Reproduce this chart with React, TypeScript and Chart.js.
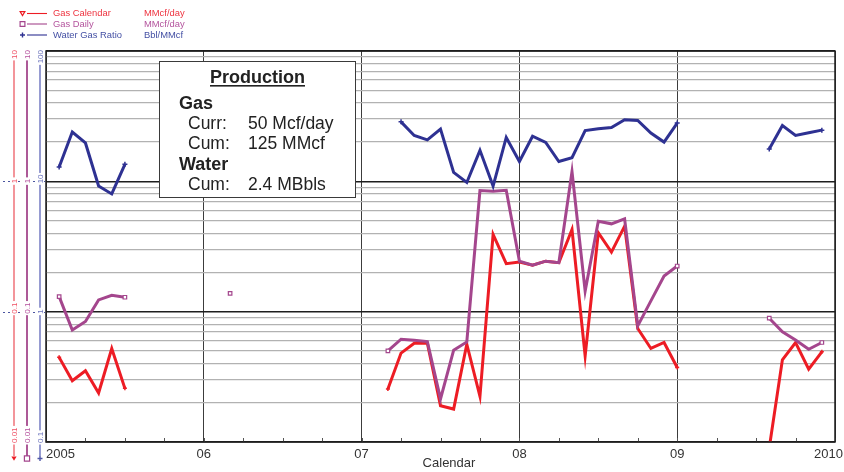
import { useEffect, useRef } from 'react';
import { Chart, registerables } from 'chart.js';

Chart.register(...registerables);

const FONT = "'Liberation Sans', Arial, Helvetica, sans-serif";

// Calendar axis: year boundaries and their printed labels
const yearTicks = [2005, 2006, 2007, 2008, 2009, 2010];
const yearLabels = ['2005', '06', '07', '08', '09', '2010'];

// Decade ticks printed on the left-hand axes
const gasAxisTicks = [0.01, 0.1, 1, 10];
const waterAxisTicks = [0.1, 1, 10, 100];

// Monthly periods, Jan 2005 .. Dec 2009
const firstYear = 2005;
const monthCount = 60;
const months: string[] = [];
for (let i = 0; i < monthCount; i++) {
  const y = firstYear + Math.floor(i / 12);
  const m = (i % 12) + 1;
  months.push(`${y}-${m < 10 ? '0' + m : m}`);
}

// Gas Calendar, MMcf/day
const gasCalendar: (number | null)[] = [
  // 2005
  0.0446, 0.0295, 0.0352, 0.0238, 0.0522, 0.0258, null, null, null, null, null, null,
  // 2006
  null, null, null, null, null, null, null, null, null, null, null, null,
  // 2007
  null, 0.0255, 0.0481, 0.0573, 0.0573, 0.019, 0.0179, 0.0563, 0.0224, 0.391, 0.2335, 0.24,
  // 2008
  0.2277, 0.244, 0.2375, 0.427, 0.0458, 0.403, 0.2865, 0.453, 0.0743, 0.0522, 0.058, 0.0373,
  // 2009
  null, null, null, null, null, null, 0.009, 0.0427, 0.058, 0.0362, 0.0492, null,
];

// Gas Daily, MMcf/day
const gasDaily: (number | null)[] = [
  // 2005
  0.1305, 0.0724, 0.084, 0.123, 0.1334, 0.129, null, null, null, null, null, null,
  // 2006
  null, 0.138, null, null, null, null, null, null, null, null, null, null,
  // 2007
  null, 0.05, 0.0615, 0.0604, 0.059, 0.0214, 0.0507, 0.0586, 0.849, 0.838, 0.853, 0.2444,
  // 2008
  0.2277, 0.244, 0.2375, 1.186, 0.144, 0.494, 0.472, 0.515, 0.0778, 0.121, 0.1875, 0.224,
  // 2009
  null, null, null, null, null, null, 0.0891, 0.07, 0.0607, 0.0515, 0.058, null,
];

// Water Gas Ratio, Bbl/MMcf
const waterGasRatio: (number | null)[] = [
  // 2005
  12.9, 23.9, 19.7, 9.2, 8.0, 13.5, null, null, null, null, null, null,
  // 2006
  null, null, null, null, null, null, null, null, null, null, null, null,
  // 2007
  null, null, 28.6, 22.5, 20.8, 25.2, 11.7, 9.8, 17.3, 9.2, 21.7, 14.2,
  // 2008
  22.2, 19.9, 14.2, 15.2, 24.5, 25.3, 25.9, 29.7, 29.3, 23.5, 20.0, 28.0,
  // 2009
  null, null, null, null, null, null, 17.7, 26.8, 22.5, 23.6, 24.7, null,
];

const RED = '#ed1c24';
const PURPLE = '#a4468d';
const NAVY = '#2e3192';

// month-end position on the calendar axis
const monthToX = (label: string) => {
  const [y, m] = label.split('-').map(Number);
  return y + m / 12;
};

const isDecade = (v: number) => Math.abs(Math.log10(v) - Math.round(Math.log10(v))) < 1e-9;

// 1..9 x 10^n grid values between the first and last decade
const logGrid = (decades: number[]) => {
  const out: number[] = [];
  for (let i = 0; i < decades.length - 1; i++) {
    for (let k = 1; k <= 9; k++) out.push(parseFloat((decades[i] * k).toPrecision(6)));
  }
  out.push(decades[decades.length - 1]);
  return out;
};

const endpointRadius = (arr: (number | null)[], r: number) => (ctx: any) => {
  const i = ctx.dataIndex;
  if (arr[i] == null) return 0;
  const prev = i > 0 ? arr[i - 1] : null;
  const next = i < arr.length - 1 ? arr[i + 1] : null;
  return prev == null || next == null ? r : 0;
};

const series = (values: (number | null)[]) =>
  months.map((m, i) => ({ x: monthToX(m), y: values[i] }));

type MarkerKind = 'triDown' | 'square' | 'plus';

function drawMarker(
  ctx: CanvasRenderingContext2D,
  kind: MarkerKind,
  x: number,
  y: number,
  s: number,
  color: string,
  filled: boolean
) {
  ctx.save();
  ctx.strokeStyle = color;
  ctx.fillStyle = color;
  ctx.lineWidth = 1.2;
  ctx.beginPath();
  if (kind === 'triDown') {
    ctx.moveTo(x - s, y - s * 0.8);
    ctx.lineTo(x + s, y - s * 0.8);
    ctx.lineTo(x, y + s * 0.9);
    ctx.closePath();
    if (filled) ctx.fill();
    else ctx.stroke();
  } else if (kind === 'square') {
    ctx.rect(x - s, y - s, 2 * s, 2 * s);
    if (filled) ctx.fill();
    else ctx.stroke();
  } else {
    ctx.lineWidth = 1.4;
    ctx.moveTo(x - s, y);
    ctx.lineTo(x + s, y);
    ctx.moveTo(x, y - s);
    ctx.lineTo(x, y + s);
    ctx.stroke();
  }
  ctx.restore();
}

const legendRows = [
  { name: 'Gas Calendar', unit: 'MMcf/day', color: RED, text: '#ee3440', marker: 'triDown' as MarkerKind, y: 13.5 },
  { name: 'Gas Daily', unit: 'MMcf/day', color: PURPLE, text: '#b4559e', marker: 'square' as MarkerKind, y: 24 },
  { name: 'Water Gas Ratio', unit: 'Bbl/MMcf', color: NAVY, text: '#4450a4', marker: 'plus' as MarkerKind, y: 35 },
];

const axisColumns = [
  { scale: 'y', x: 14, ticks: gasAxisTicks, line: '#f28a90', text: '#ef5064', marker: 'triDown' as MarkerKind, markerColor: RED },
  { scale: 'y', x: 27, ticks: gasAxisTicks, line: '#a4478c', text: '#b4509c', marker: 'square' as MarkerKind, markerColor: PURPLE },
  { scale: 'yWater', x: 40, ticks: waterAxisTicks, line: '#8b91cd', text: '#6c74bd', marker: 'plus' as MarkerKind, markerColor: '#5058a8' },
];

const summaryLines = [
  { text: 'Gas', x: 179, y: 108.5, bold: true },
  { text: 'Curr:', x: 188, y: 128.5, bold: false },
  { text: '50 Mcf/day', x: 248, y: 128.5, bold: false },
  { text: 'Cum:', x: 188, y: 148.5, bold: false },
  { text: '125 MMcf', x: 248, y: 148.5, bold: false },
  { text: 'Water', x: 179, y: 170, bold: true },
  { text: 'Cum:', x: 188, y: 190, bold: false },
  { text: '2.4 MBbls', x: 248, y: 190, bold: false },
];

const decorPlugin = {
  id: 'decor',
  afterDatasetsDraw(chart: any) {
    const ctx: CanvasRenderingContext2D = chart.ctx;
    const a = chart.chartArea;
    const xs = chart.scales.x;
    ctx.save();

    // quarter tick marks along the bottom edge
    ctx.strokeStyle = '#555';
    ctx.lineWidth = 1;
    const quarters = (yearTicks[yearTicks.length - 1] - yearTicks[0]) * 4;
    for (let i = 0; i <= quarters; i++) {
      const px = Math.round(xs.getPixelForValue(yearTicks[0] + i / 4)) + 0.5;
      ctx.beginPath();
      ctx.moveTo(px, a.bottom);
      ctx.lineTo(px, a.bottom - 4);
      ctx.stroke();
    }

    // plot frame
    ctx.strokeStyle = '#1e1e1e';
    ctx.lineWidth = 1.5;
    ctx.strokeRect(a.left, a.top, a.right - a.left, a.bottom - a.top);

    // calendar labels
    ctx.fillStyle = '#333';
    ctx.font = `13px ${FONT}`;
    ctx.textBaseline = 'alphabetic';
    yearTicks.forEach((yr, i) => {
      const px = xs.getPixelForValue(yr);
      if (i === 0) {
        ctx.textAlign = 'left';
        ctx.fillText(yearLabels[i], px, 457.5);
      } else if (i === yearTicks.length - 1) {
        ctx.textAlign = 'right';
        ctx.fillText(yearLabels[i], chart.width - 1, 457.5);
      } else {
        ctx.textAlign = 'center';
        ctx.fillText(yearLabels[i], px, 457.5);
      }
    });
    ctx.textAlign = 'center';
    ctx.fillText('Calendar', 449, 467);

    // production summary box
    ctx.fillStyle = '#fff';
    ctx.fillRect(159.5, 61.5, 196, 136);
    ctx.strokeStyle = '#3a3a3a';
    ctx.lineWidth = 1;
    ctx.strokeRect(159.5, 61.5, 196, 136);
    ctx.fillStyle = '#222';
    ctx.font = `bold 18px ${FONT}`;
    ctx.textAlign = 'center';
    ctx.fillText('Production', 257.5, 83);
    const tw = ctx.measureText('Production').width;
    ctx.fillRect(257.5 - tw / 2, 85, tw, 1.6);
    ctx.textAlign = 'left';
    summaryLines.forEach((l) => {
      ctx.font = `${l.bold ? 'bold 18px' : '17.5px'} ${FONT}`;
      ctx.fillText(l.text, l.x, l.y);
    });

    // left-hand value axes
    const ys = chart.scales.y;
    ctx.strokeStyle = '#4b55a0';
    ctx.lineWidth = 1;
    ctx.setLineDash([2, 3]);
    gasAxisTicks.slice(1, -1).forEach((v) => {
      const py = Math.round(ys.getPixelForValue(v)) + 0.5;
      ctx.beginPath();
      ctx.moveTo(3, py);
      ctx.lineTo(a.left, py);
      ctx.stroke();
    });
    ctx.setLineDash([]);

    axisColumns.forEach((col) => {
      const sc = chart.scales[col.scale];
      ctx.strokeStyle = col.line;
      ctx.lineWidth = 1.8;
      ctx.beginPath();
      ctx.moveTo(col.x, a.top);
      ctx.lineTo(col.x, 456);
      ctx.stroke();
      ctx.font = `8px ${FONT}`;
      col.ticks.forEach((v, i) => {
        const label = String(v);
        const w = ctx.measureText(label).width;
        const py = sc.getPixelForValue(v);
        let cy: number;
        if (i === col.ticks.length - 1) cy = a.top - 1 + w / 2;
        else if (i === 0) cy = a.bottom + 1 - w / 2;
        else cy = py + 2 - w / 2;
        ctx.fillStyle = '#fff';
        ctx.fillRect(col.x - 4, cy - w / 2 - 1.5, 8, w + 3);
        ctx.save();
        ctx.translate(col.x, cy);
        ctx.rotate(-Math.PI / 2);
        ctx.textAlign = 'center';
        ctx.textBaseline = 'middle';
        ctx.fillStyle = col.text;
        ctx.fillText(label, 0, 0.5);
        ctx.restore();
      });
      drawMarker(ctx, col.marker, col.x, 458.5, col.marker === 'plus' ? 2.5 : 2.6, col.markerColor, col.marker === 'triDown');
    });

    // legend
    ctx.textBaseline = 'middle';
    ctx.textAlign = 'left';
    ctx.font = `9.4px ${FONT}`;
    legendRows.forEach((r) => {
      drawMarker(ctx, r.marker, 22.5, r.y, r.marker === 'plus' ? 2.5 : 2.4, r.color, false);
      ctx.strokeStyle = r.color;
      ctx.lineWidth = 1.1;
      ctx.beginPath();
      ctx.moveTo(27, r.y);
      ctx.lineTo(47, r.y);
      ctx.stroke();
      ctx.fillStyle = r.text;
      ctx.fillText(r.name, 53, r.y);
      ctx.fillText(r.unit, 144, r.y);
    });

    ctx.restore();
  },
};

export default function App() {
  const ref = useRef<HTMLCanvasElement>(null);

  useEffect(() => {
    const canvas = ref.current;
    if (!canvas) return;
    const gasGrid = logGrid(gasAxisTicks);
    const waterGrid = logGrid(waterAxisTicks);

    const chart = new Chart(canvas, {
      type: 'line',
      data: {
        datasets: [
          {
            label: 'Water Gas Ratio',
            data: series(waterGasRatio),
            yAxisID: 'yWater',
            borderColor: NAVY,
            borderWidth: 3,
            pointStyle: 'cross',
            pointRadius: endpointRadius(waterGasRatio, 2.5),
            pointBorderColor: NAVY,
            pointBorderWidth: 1.5,
            spanGaps: false,
            tension: 0,
          },
          {
            label: 'Gas Daily',
            data: series(gasDaily),
            yAxisID: 'y',
            borderColor: PURPLE,
            borderWidth: 3,
            pointStyle: 'rect',
            pointRadius: endpointRadius(gasDaily, 2.5),
            pointBackgroundColor: '#fff',
            pointBorderColor: PURPLE,
            pointBorderWidth: 1.2,
            spanGaps: false,
            tension: 0,
          },
          {
            label: 'Gas Calendar',
            data: series(gasCalendar),
            yAxisID: 'y',
            borderColor: RED,
            borderWidth: 3,
            pointStyle: 'cross',
            pointRadius: endpointRadius(gasCalendar, 2),
            pointBorderColor: RED,
            pointBorderWidth: 1.5,
            spanGaps: false,
            tension: 0,
          },
        ],
      },
      options: {
        animation: false,
        responsive: false,
        maintainAspectRatio: false,
        events: [],
        layout: { padding: { left: 46, top: 51, right: 9, bottom: 30 } },
        plugins: { legend: { display: false }, tooltip: { enabled: false } },
        scales: {
          x: {
            type: 'linear',
            min: yearTicks[0],
            max: yearTicks[yearTicks.length - 1],
            afterBuildTicks: (s: any) => {
              s.ticks = yearTicks.map((v) => ({ value: v }));
            },
            afterFit: (s: any) => {
              s.height = 0;
            },
            ticks: { display: false },
            grid: { color: '#3c3c3c', lineWidth: 1, drawTicks: false },
            border: { display: false },
          },
          y: {
            type: 'logarithmic',
            position: 'left',
            min: gasAxisTicks[0],
            max: gasAxisTicks[gasAxisTicks.length - 1],
            afterBuildTicks: (s: any) => {
              s.ticks = gasGrid.map((v) => ({ value: v, major: isDecade(v) }));
            },
            afterFit: (s: any) => {
              s.width = 0;
            },
            ticks: { display: false },
            grid: {
              drawTicks: false,
              color: (c: any) => (c.tick && isDecade(c.tick.value) ? '#1e1e1e' : '#b2b2b2'),
              lineWidth: (c: any) => (c.tick && isDecade(c.tick.value) ? 1.6 : 1.3),
            },
            border: { display: false },
          },
          yWater: {
            type: 'logarithmic',
            position: 'left',
            display: false,
            min: waterAxisTicks[0],
            max: waterAxisTicks[waterAxisTicks.length - 1],
            afterBuildTicks: (s: any) => {
              s.ticks = waterGrid.map((v) => ({ value: v }));
            },
            afterFit: (s: any) => {
              s.width = 0;
            },
            grid: { display: false },
          },
        },
      },
      plugins: [decorPlugin],
    } as any);

    return () => chart.destroy();
  }, []);

  return (
    <div style={{ position: 'fixed', left: 0, top: 0, width: 844, height: 472, background: '#fff' }}>
      <canvas ref={ref} width={844} height={472} style={{ display: 'block', width: 844, height: 472 }} />
    </div>
  );
}
